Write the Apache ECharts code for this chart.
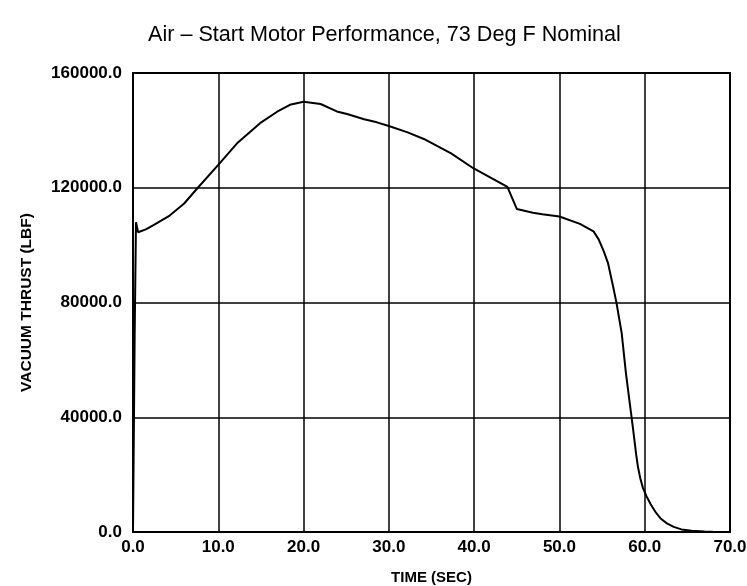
<!DOCTYPE html>
<html>
<head>
<meta charset="utf-8">
<script src="https://cdn.jsdelivr.net/npm/echarts@6/dist/echarts.min.js"></script>
<style>html,body{margin:0;padding:0;background:#fff}#c{width:747px;height:586px}</style>
</head>
<body>
<div id="c"></div>
<script>
var timeSec = [0, 0.2, 0.35, 0.6, 1.5, 2.4, 4.3, 6.0, 7.6, 10.0, 12.2, 14.9, 16.9, 18.4, 20.0, 22.0, 23.9, 25.1, 27.1, 28.6, 30.0, 32.2, 34.1, 37.3, 39.9, 43.9, 45.0, 46.9, 48.0, 50.0, 52.4, 54.0, 54.6, 55.2, 55.7, 56.3, 56.7, 57.3, 57.8, 58.2, 58.6, 59.0, 59.2, 59.5, 59.8, 60.2, 60.7, 61.3, 61.9, 62.6, 63.4, 64.3, 65.5, 67.0, 68.0];
var thrust = [0, 70000, 108000, 104500, 105500, 107000, 110300, 114500, 120000, 128000, 135500, 142500, 146500, 148900, 150000, 149200, 146600, 145700, 143900, 142800, 141500, 139300, 137000, 132000, 126800, 120300, 112600, 111300, 110800, 110000, 107400, 104800, 102000, 97800, 93700, 85500, 79700, 69300, 55300, 46000, 36700, 27000, 22800, 18500, 15300, 12500, 9700, 6800, 4600, 3000, 1800, 900, 400, 150, 80];
var titleText = 'Air \u2013 Start Motor Performance, 73 Deg F Nominal';
var xName = 'TIME (SEC)';
var yName = 'VACUUM THRUST (LBF)';

var pts = timeSec.map(function (t, i) { return [t, thrust[i]]; });
var font = 'Liberation Sans';
var chart = echarts.init(document.getElementById('c'), null, {renderer: 'canvas'});
chart.setOption({
  backgroundColor: '#fff',
  animation: false,
  title: {
    text: titleText,
    left: 143, top: 19,
    textStyle: {fontFamily: font, fontSize: 21.6, fontWeight: 'normal', color: '#000'}
  },
  grid: {left: 133, right: 17, top: 73, bottom: 54, show: true, borderColor: '#000', borderWidth: 2, backgroundColor: 'transparent', outerBoundsMode: 'none', containLabel: false},
  xAxis: {
    type: 'value', min: 0, max: 70, interval: 10,
    name: xName, nameLocation: 'middle', nameGap: 38,
    nameTextStyle: {fontFamily: font, fontSize: 15, fontWeight: 'bold', color: '#000'},
    axisLine: {show: true, lineStyle: {color: '#000', width: 2}},
    axisTick: {show: false},
    splitLine: {show: true, lineStyle: {color: '#000', width: 1.5}},
    axisLabel: {margin: 7, fontFamily: font, fontSize: 17, fontWeight: 'bold', color: '#000',
      formatter: function (v) { return v.toFixed(1); }}
  },
  yAxis: {
    type: 'value', min: 0, max: 160000, interval: 40000,
    name: yName, nameLocation: 'middle', nameGap: 98, nameRotate: 90,
    nameTextStyle: {fontFamily: font, fontSize: 15.5, fontWeight: 'bold', color: '#000'},
    axisLine: {show: true, lineStyle: {color: '#000', width: 2}},
    axisTick: {show: false},
    splitLine: {show: true, lineStyle: {color: '#000', width: 1.5}},
    axisLabel: {margin: 11, fontFamily: font, fontSize: 17, fontWeight: 'bold', color: '#000',
      formatter: function (v) { return v.toFixed(1); }}
  },
  series: [{
    type: 'line', data: pts, showSymbol: false, smooth: false,
    lineStyle: {color: '#000', width: 2}, z: 5
  }]
});
</script>
</body>
</html>
